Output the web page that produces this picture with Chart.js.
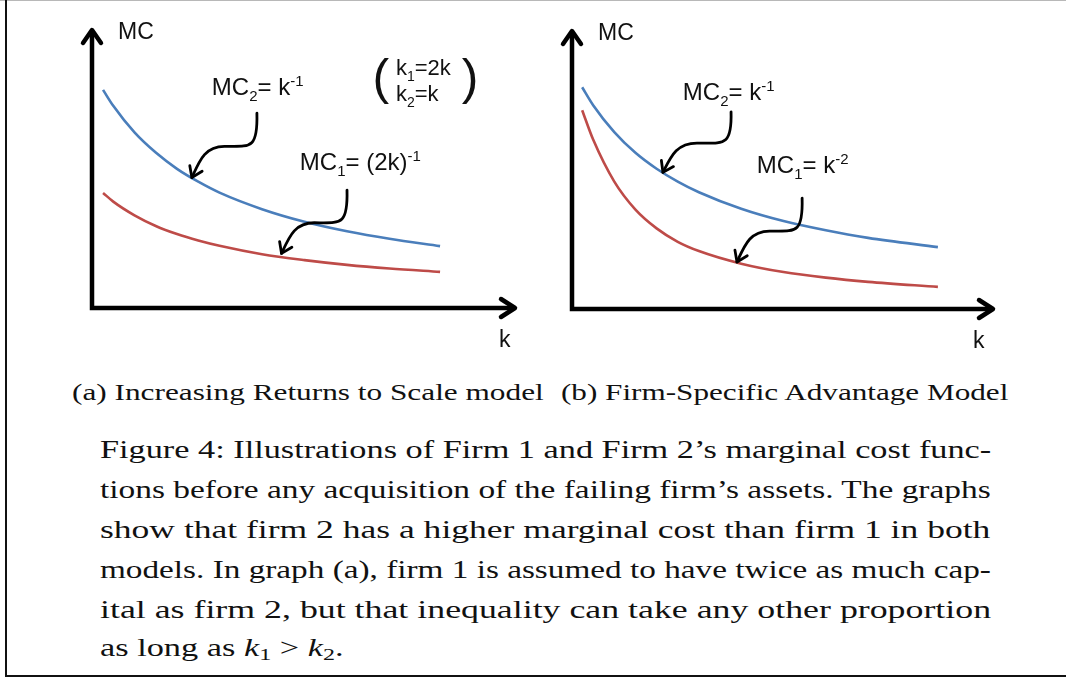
<!DOCTYPE html>
<html>
<head>
<meta charset="utf-8">
<script src="https://cdn.jsdelivr.net/npm/chart.js@4.4.1/dist/chart.umd.min.js"></script>
<style>
html,body{margin:0;padding:0;background:#fff;}
#page{position:relative;width:1066px;height:679px;overflow:hidden;background:#fff;}
.frame-top{position:absolute;left:0;top:0;width:1066px;height:1px;background:#b8b8b8;}
.frame-left{position:absolute;left:5px;top:0;width:2px;height:677px;background:#111;}
.frame-bottom{position:absolute;left:5px;top:675px;width:1061px;height:2px;background:#111;}
canvas{position:absolute;top:0;}
.ln{position:absolute;left:0;top:0;white-space:nowrap;font-family:'Liberation Serif','Times New Roman',serif;color:#111;transform-origin:0 0;}
.cap{font-size:23px;}
.fig{font-size:25px;}
.bl{display:inline-block;width:0;height:0;vertical-align:baseline;}
.sb{font-size:0.7em;vertical-align:-0.25em;font-style:normal;}
</style>
</head>
<body>
<div id="page">
  <div class="frame-top"></div>
  <div class="frame-left"></div>
  <div class="frame-bottom"></div>
  <canvas id="chartA" width="533" height="360" style="left:0px"></canvas>
  <canvas id="chartB" width="533" height="360" style="left:533px"></canvas>

  <div class="ln cap" data-x="72" data-b="400" data-w="472">(a) Increasing Returns to Scale model<span class="bl"></span></div>
  <div class="ln cap" data-x="561" data-b="400" data-w="447">(b) Firm-Specific Advantage Model<span class="bl"></span></div>

  <div class="ln fig" data-x="100" data-b="458" data-w="891">Figure 4: Illustrations of Firm 1 and Firm 2’s marginal cost func-<span class="bl"></span></div>
  <div class="ln fig" data-x="100" data-b="498" data-w="891">tions before any acquisition of the failing firm’s assets. The graphs<span class="bl"></span></div>
  <div class="ln fig" data-x="100" data-b="538" data-w="891">show that firm 2 has a higher marginal cost than firm 1 in both<span class="bl"></span></div>
  <div class="ln fig" data-x="100" data-b="578" data-w="891">models. In graph (a), firm 1 is assumed to have twice as much cap-<span class="bl"></span></div>
  <div class="ln fig" data-x="100" data-b="618" data-w="891">ital as firm 2, but that inequality can take any other proportion<span class="bl"></span></div>
  <div class="ln fig" data-x="100" data-b="656" data-w="243">as long as <i>k</i><span class="sb">1</span> &gt; <i>k</i><span class="sb">2</span>.<span class="bl"></span></div>
</div>

<script>
// ---------- data (arbitrary units, axes 0..10) ----------
const kA   = [0.26, 0.5, 1, 1.5, 2, 2.5, 3, 4, 5, 6, 7, 8.19];
const mc2A = [7.79, 7.22, 6.27, 5.55, 4.97, 4.51, 4.12, 3.53, 3.08, 2.74, 2.47, 2.21];
const mc1A = [4.11, 3.80, 3.31, 2.93, 2.64, 2.41, 2.22, 1.92, 1.71, 1.54, 1.41, 1.29];

const kB   = [0.24, 0.5, 1, 1.5, 2, 2.5, 3, 4, 5, 6, 7, 8.65];
const mc2B = [7.92, 7.28, 6.32, 5.58, 5.01, 4.55, 4.17, 3.58, 3.14, 2.81, 2.54, 2.21];
const mc1B = [7.10, 6.05, 4.55, 3.55, 2.88, 2.40, 2.07, 1.62, 1.32, 1.12, 0.97, 0.79];

const axisRange = [0, 10];
const seriesNames = ['MC2', 'MC1'];
const BLUE = '#4a7ebb';
const RED  = '#be4b48';

// ---------- caption layout ----------
document.querySelectorAll('.ln').forEach(el => {
  const tx = +el.dataset.x, tb = +el.dataset.b, tw = +el.dataset.w;
  el.style.left = tx + 'px';
  el.style.top = '0px';
  const bl = el.querySelector('.bl');
  const off = bl.getBoundingClientRect().top - el.getBoundingClientRect().top;
  el.style.top = (tb - off) + 'px';
  const w = el.offsetWidth;
  el.style.transform = 'scaleX(' + (tw / w) + ')';
});

// ---------- helpers ----------
const SANS = '"Liberation Sans", Arial, Helvetica, sans-serif';
function drawRich(ctx, x, y, parts, size, small) {
  let cx = x;
  ctx.textBaseline = 'alphabetic';
  ctx.textAlign = 'left';
  for (const p of parts) {
    const s = p.s ? small : size;
    ctx.font = s + 'px ' + SANS;
    const dy = p.s === 'sub' ? 6 : (p.s === 'sup' ? -9 : 0);
    ctx.fillText(p.t, cx, y + dy);
    cx += ctx.measureText(p.t).width;
  }
}
function curlyArrow(ctx, S, T) {
  const M = {x: (S.x + T.x) / 2, y: (S.y + T.y) / 2 + 1};
  const dx = S.x - T.x;
  const c3 = {x: T.x + dx * 0.12, y: T.y - (T.y - M.y) * 0.55};
  ctx.beginPath();
  ctx.moveTo(S.x, S.y);
  ctx.bezierCurveTo(S.x + 1, S.y + (M.y - S.y) * 1.1, M.x + dx * 0.4, M.y, M.x, M.y);
  ctx.bezierCurveTo(M.x - dx * 0.30, M.y, c3.x, c3.y, T.x, T.y);
  ctx.stroke();
  const ang = Math.atan2(T.y - c3.y, T.x - c3.x);
  const L = 12, spread = 0.6;
  ctx.beginPath();
  ctx.moveTo(T.x - L * Math.cos(ang - spread), T.y - L * Math.sin(ang - spread));
  ctx.lineTo(T.x, T.y);
  ctx.lineTo(T.x - L * Math.cos(ang + spread), T.y - L * Math.sin(ang + spread));
  ctx.stroke();
}

const decor = {
  id: 'decor',
  afterDatasetsDraw(chart, args, opts) {
    const ctx = chart.ctx;
    const {left, right, top, bottom} = chart.chartArea;
    const xs = chart.scales.x, ys = chart.scales.y;
    const P = (a) => ({x: xs.getPixelForValue(a[0]), y: ys.getPixelForValue(a[1])});
    ctx.save();
    // axes
    ctx.strokeStyle = '#000';
    ctx.lineWidth = 4.5;
    ctx.lineJoin = 'miter';
    ctx.lineCap = 'butt';
    ctx.beginPath();
    ctx.moveTo(left, top + 3);
    ctx.lineTo(left, bottom);
    ctx.lineTo(right - 3, bottom);
    ctx.stroke();
    ctx.lineCap = 'round';
    ctx.lineJoin = 'round';
    ctx.beginPath();
    ctx.moveTo(left - 9, top + 15);
    ctx.lineTo(left, top + 2);
    ctx.lineTo(left + 9, top + 15);
    ctx.stroke();
    ctx.beginPath();
    ctx.moveTo(right - 16, bottom - 9);
    ctx.lineTo(right - 2, bottom);
    ctx.lineTo(right - 16, bottom + 9);
    ctx.stroke();

    // curly pointer arrows
    ctx.lineWidth = 2.8;
    for (const a of opts.arrows) curlyArrow(ctx, P(a.from), P(a.to));

    // labels
    ctx.fillStyle = '#111';
    drawRich(ctx, left + 26, top + 11, [{t: 'MC'}], 23, 15);
    drawRich(ctx, right + opts.kdx, bottom + 39, [{t: 'k'}], 23, 15);
    for (const l of opts.labels) {
      const p = P(l.at);
      drawRich(ctx, p.x, p.y, l.parts, l.size || 24, l.small || 15);
    }
    if (opts.paren) {
      ctx.font = '50px ' + SANS;
      ctx.textBaseline = 'alphabetic';
      const pl = P(opts.paren.l), pr = P(opts.paren.r);
      ctx.fillText('(', pl.x, pl.y);
      ctx.fillText(')', pr.x, pr.y);
    }
    ctx.restore();
  }
};

function makeChart(id, ks, blue, red, padding, decorOpts) {
  return new Chart(document.getElementById(id), {
    type: 'scatter',
    data: {
      datasets: [
        {label: seriesNames[0], data: ks.map((k, i) => ({x: k, y: blue[i]})), showLine: true,
         borderColor: BLUE, borderWidth: 2.6, pointRadius: 0, cubicInterpolationMode: 'monotone', fill: false},
        {label: seriesNames[1], data: ks.map((k, i) => ({x: k, y: red[i]})), showLine: true,
         borderColor: RED, borderWidth: 2.6, pointRadius: 0, cubicInterpolationMode: 'monotone', fill: false}
      ]
    },
    options: {
      responsive: false,
      animation: false,
      layout: {padding: padding},
      plugins: {legend: {display: false}, tooltip: {enabled: false}, decor: decorOpts},
      scales: {
        x: {type: 'linear', min: axisRange[0], max: axisRange[1], display: false},
        y: {type: 'linear', min: axisRange[0], max: axisRange[1], display: false}
      }
    },
    plugins: [decor]
  });
}

makeChart('chartA', kA, mc2A, mc1A, {left: 92, right: 16, top: 28, bottom: 52}, {
  kdx: -18,
  arrows: [
    {from: [3.88, 6.96], to: [2.35, 4.66]},
    {from: [6.00, 4.21], to: [4.46, 1.95]}
  ],
  labels: [
    {at: [2.82, 7.61], parts: [{t: 'MC'}, {t: '2', s: 'sub'}, {t: '= k'}, {t: '-1', s: 'sup'}]},
    {at: [4.89, 4.93], parts: [{t: 'MC'}, {t: '1', s: 'sub'}, {t: '= (2k)'}, {t: '-1', s: 'sup'}]},
    {at: [7.15, 8.32], parts: [{t: 'k'}, {t: '1', s: 'sub'}, {t: '=2k'}], size: 22, small: 14},
    {at: [7.15, 7.39], parts: [{t: 'k'}, {t: '2', s: 'sub'}, {t: '=k'}], size: 22, small: 14}
  ],
  paren: {l: [6.60, 7.64], r: [8.70, 7.64]}
});

makeChart('chartB', kB, mc2B, mc1B, {left: 39, right: 71, top: 29, bottom: 51}, {
  kdx: -22,
  arrows: [
    {from: [3.76, 7.04], to: [2.15, 4.88]},
    {from: [5.44, 3.96], to: [3.90, 1.68]}
  ],
  labels: [
    {at: [2.62, 7.46], parts: [{t: 'MC'}, {t: '2', s: 'sub'}, {t: '= k'}, {t: '-1', s: 'sup'}]},
    {at: [4.37, 4.86], parts: [{t: 'MC'}, {t: '1', s: 'sub'}, {t: '= k'}, {t: '-2', s: 'sup'}]}
  ],
  paren: null
});
</script>
</body>
</html>
